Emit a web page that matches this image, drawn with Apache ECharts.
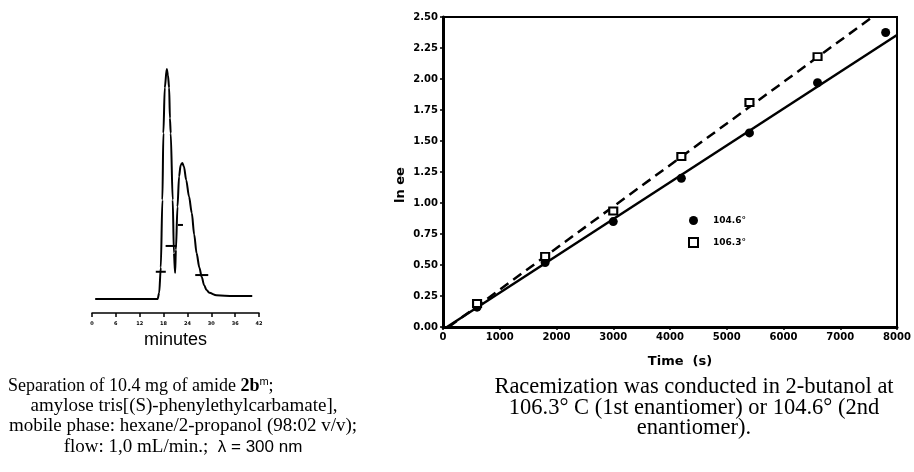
<!DOCTYPE html>
<html>
<head>
<meta charset="utf-8">
<script src="https://cdn.jsdelivr.net/npm/echarts@6/dist/echarts.min.js"></script>
<style>
  html, body { margin: 0; padding: 0; background: #fff; }
  #main { width: 914px; height: 472px; }
</style>
</head>
<body>
<div id="main"></div>
<script>
// chromatogram: [minutes, detector signal (arbitrary units)]
var chromTrace = [
  [0.8, 5.5], [8, 5.5], [16.5, 5.5], [16.9, 8], [17.3, 18], [17.7, 44.7], [17.95, 71],
  [18.3, 89], [18.8, 96.4], [19.1, 94], [19.4, 89], [19.6, 77], [19.8, 71], [20.3, 44.7],
  [20.6, 23.7], [20.9, 15.8], [21.1, 25], [21.5, 42], [21.9, 54], [22.3, 58.5], [22.7, 59.3],
  [23.1, 58], [23.7, 52.5], [24.4, 46], [25.1, 39.5], [25.7, 31], [26.3, 23.7], [27.0, 18],
  [27.6, 14.2], [28.2, 11], [28.8, 9.1], [29.5, 8], [31.3, 7], [35.5, 6.7], [40.3, 6.7]
];
// short integration marks on the trace
var chromMarks = [[17.3, 16.3], [19.9, 26.5], [22.25, 34.8], [27.6, 15]];
var chromTicks = [0, 6, 12, 18, 24, 30, 36, 42];

// racemization kinetics
var time = [600, 1800, 3000, 4200, 5400, 6600, 7800];
var lnee1046 = [0.16, 0.52, 0.85, 1.20, 1.565, 1.97, 2.375];
var time1063 = [600, 1800, 3000, 4200, 5400, 6600];
var lnee1063 = [0.19, 0.57, 0.935, 1.375, 1.81, 2.18];
// fitted lines (end points)
var fit1046 = [[70, 0], [8000, 2.355]];
var fit1063 = [[100, 0], [7566, 2.5]];

function pairs(xs, ys) {
  return xs.map(function (x, i) { return [x, ys[i]]; });
}

var bold = 'DejaVu Sans';
var serifL = '19px "Liberation Serif"';
var serifR = '22.5px "Liberation Serif"';
var chart = echarts.init(document.getElementById('main'));

var option = {
  backgroundColor: '#fff',
  animation: false,
  grid: [
    { left: 92, right: 655, top: 60, bottom: 159 },
    { left: 443, right: 17, top: 17, bottom: 145, show: true, borderColor: '#000', borderWidth: 2, backgroundColor: 'transparent' }
  ],
  xAxis: [
    {
      gridIndex: 0, type: 'value', min: 0, max: 42, interval: 6,
      axisLine: { lineStyle: { color: '#000', width: 1.5 } },
      axisTick: { length: 4, lineStyle: { color: '#000', width: 1.5 } },
      splitLine: { show: false },
      axisLabel: { color: '#000', fontFamily: bold, fontWeight: 'bold', fontSize: 5, margin: 8 },
      name: 'minutes', nameLocation: 'middle', nameGap: 18,
      nameTextStyle: { color: '#000', fontFamily: 'Liberation Sans', fontSize: 18 }
    },
    {
      gridIndex: 1, type: 'value', min: 0, max: 8000, interval: 1000,
      axisLine: { lineStyle: { color: '#000', width: 3 } },
      axisTick: { length: 3, lineStyle: { color: '#000', width: 1.5 } },
      splitLine: { show: false },
      axisLabel: {
        color: '#000', fontFamily: bold, fontWeight: 'bold', fontSize: 10, margin: 5,
        formatter: function (v) { return String(v); }
      },
      name: 'Time  (s)', nameLocation: 'middle', nameGap: 28,
      nameTextStyle: { color: '#000', fontFamily: bold, fontWeight: 'bold', fontSize: 13, padding: [0, 0, 0, 20] }
    }
  ],
  yAxis: [
    { gridIndex: 0, type: 'value', min: 0, max: 100, show: false },
    {
      gridIndex: 1, type: 'value', min: 0, max: 2.5, interval: 0.25,
      axisLine: { show: true, lineStyle: { color: '#000', width: 3 } },
      axisTick: { show: true, length: 3, lineStyle: { color: '#000', width: 1.5 } },
      splitLine: { show: false },
      axisLabel: {
        color: '#000', fontFamily: bold, fontWeight: 'bold', fontSize: 10, margin: 5,
        formatter: function (v) { return v.toFixed(2); }
      },
      name: 'ln ee', nameLocation: 'middle', nameGap: 36,
      nameTextStyle: { color: '#000', fontFamily: bold, fontWeight: 'bold', fontSize: 13, padding: [0, 26, 0, 0] }
    }
  ],
  legend: {
    data: ['104.6°', '106.3°'],
    orient: 'vertical',
    left: 683, top: 211,
    itemWidth: 9, itemHeight: 9, itemGap: 12,
    textStyle: { color: '#000', fontFamily: bold, fontWeight: 'bold', fontSize: 9, padding: [0, 0, 0, 10] }
  },
  series: [
    {
      type: 'line', xAxisIndex: 0, yAxisIndex: 0, data: chromTrace,
      smooth: 0.3, smoothMonotone: 'x', showSymbol: false,
      lineStyle: { color: '#000', width: 2 }
    },
    {
      type: 'scatter', xAxisIndex: 0, yAxisIndex: 0, data: chromMarks,
      symbol: 'rect', symbolSize: function (v, p) { return [[10, 11, 5, 13][p.dataIndex], 2]; },
      itemStyle: { color: '#000', opacity: 1 }
    },
    {
      name: 'fit 104.6', type: 'line', xAxisIndex: 1, yAxisIndex: 1, data: fit1046,
      showSymbol: false, lineStyle: { color: '#000', width: 2.5 }
    },
    {
      name: 'fit 106.3', type: 'line', xAxisIndex: 1, yAxisIndex: 1, data: fit1063,
      showSymbol: false, lineStyle: { color: '#000', width: 2.5, type: [10, 6] }
    },
    {
      name: '104.6°', type: 'scatter', xAxisIndex: 1, yAxisIndex: 1, data: pairs(time, lnee1046),
      symbol: 'circle', symbolSize: 9, itemStyle: { color: '#000', opacity: 1 }, z: 5
    },
    {
      name: '106.3°', type: 'scatter', xAxisIndex: 1, yAxisIndex: 1, data: pairs(time1063, lnee1063),
      symbol: 'rect', symbolSize: [8, 7],
      itemStyle: { color: '#fff', borderColor: '#000', borderWidth: 2, opacity: 1 }, z: 6
    }
  ],
  graphic: [
    {
      type: 'text', left: 8, top: 376,
      style: {
        text: 'Separation of 10.4 mg of amide {b|2b}{sup|m};',
        font: '18px "Liberation Serif"', fill: '#000',
        rich: {
          b: { fontFamily: 'Liberation Serif', fontWeight: 'bold', fontSize: 18 },
          sup: { fontFamily: 'Liberation Sans', fontSize: 11, padding: [0, 0, 9, 0] }
        }
      }
    },
    {
      type: 'text', x: 184, y: 406,
      style: { text: 'amylose tris[(S)-phenylethylcarbamate],', font: serifL, fill: '#000', align: 'center', verticalAlign: 'middle' }
    },
    {
      type: 'text', x: 183, y: 426.5,
      style: { text: 'mobile phase: hexane/2-propanol (98:02 v/v);', font: serifL, fill: '#000', align: 'center', verticalAlign: 'middle' }
    },
    {
      type: 'text', x: 183, y: 447,
      style: {
        text: 'flow: 1,0 mL/min.;  {s|λ = 300 nm}', font: serifL, fill: '#000',
        align: 'center', verticalAlign: 'middle',
        rich: { s: { fontFamily: 'Liberation Sans', fontSize: 17 } }
      }
    },
    {
      type: 'text', x: 694, y: 387,
      style: { text: 'Racemization was conducted in 2-butanol at', font: serifR, fill: '#000', align: 'center', verticalAlign: 'middle' }
    },
    {
      type: 'text', x: 694, y: 408,
      style: { text: '106.3° C (1st enantiomer) or 104.6° (2nd', font: serifR, fill: '#000', align: 'center', verticalAlign: 'middle' }
    },
    {
      type: 'text', x: 694, y: 428,
      style: { text: 'enantiomer).', font: serifR, fill: '#000', align: 'center', verticalAlign: 'middle' }
    }
  ]
};

chart.setOption(option);
</script>
</body>
</html>
